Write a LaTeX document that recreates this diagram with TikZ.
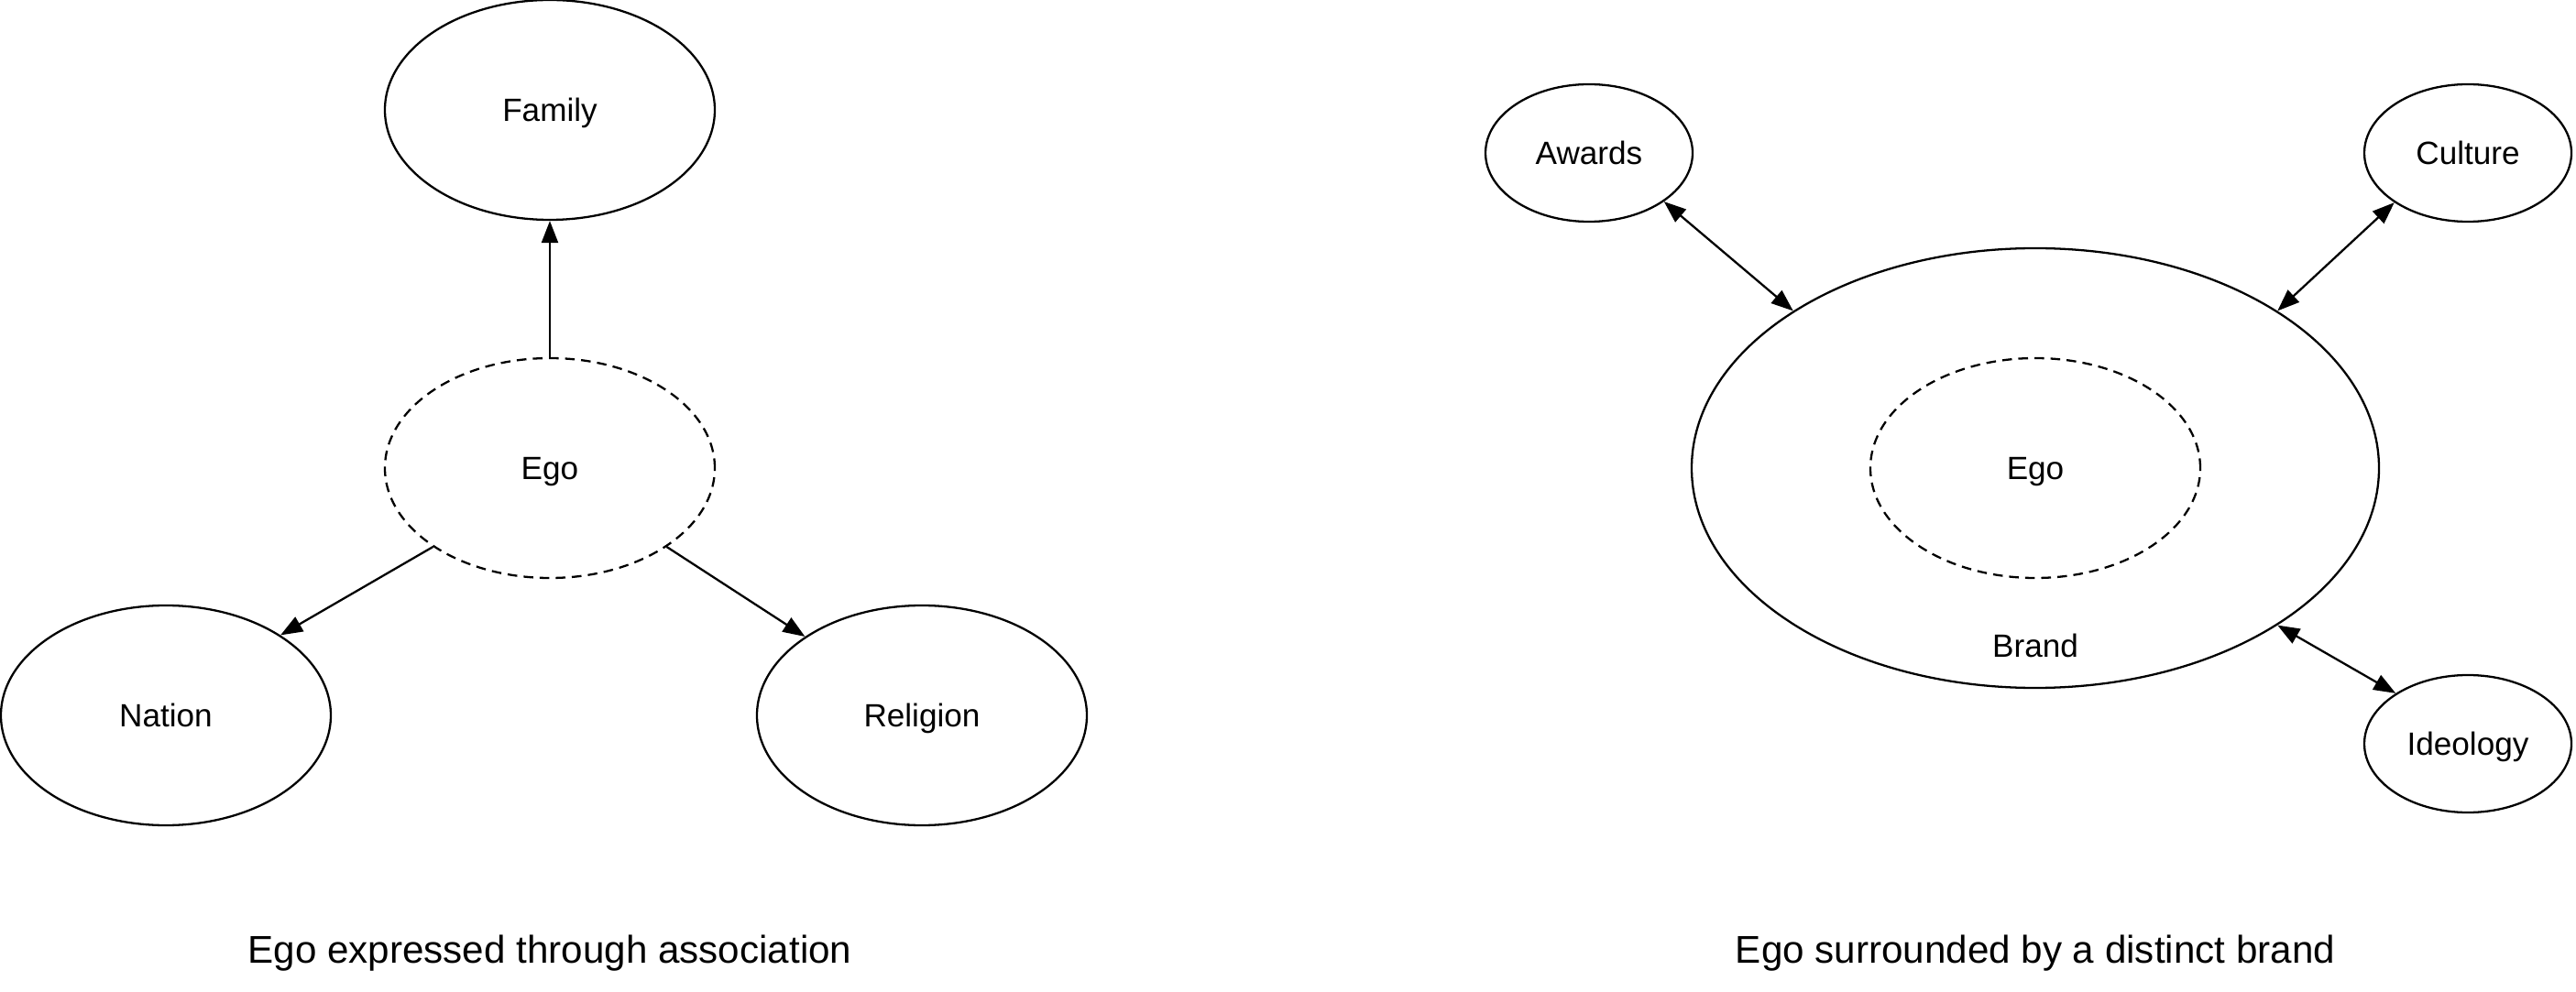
\documentclass[tikz,border=0pt]{standalone}
\usepackage{fontspec}
\setmainfont{Liberation Sans}
\usepackage{tikz}
\usetikzlibrary{arrows.meta, shapes.geometric}

\tikzset{
  blob/.style={ellipse, draw, line width=0.65pt, inner sep=0pt,
               text height=7.2pt, text depth=0pt,
               minimum width=3.6cm, minimum height=2.4cm},
  smallblob/.style={blob, minimum width=2.26cm, minimum height=1.5cm},
  egoblob/.style={blob, dash pattern=on 3pt off 2pt},
  label/.style={inner sep=0pt, text height=7.2pt, text depth=0pt},
  caption/.style={font=\fontsize{12}{14}\selectfont, inner sep=0pt,
                  text height=8.6pt, text depth=0pt}
}

\begin{document}
\begin{tikzpicture}[>={Triangle[length=2.4mm, width=1.8mm]}, line width=0.65pt]
            \useasboundingbox (0,0) rectangle (28.11,-10.83);
            % association
            \node[egoblob] (e1) at (6.00,-5.11) {Ego};
            \node[blob] (fam) at (6.00,-1.20) {Family};
            \node[blob] (nat) at (1.81,-7.81) {Nation};
            \node[blob] (rel) at (10.06,-7.81) {Religion};
            \draw (e1.north) edge[->] (fam.south);
            \draw (e1.214) edge[->] (nat.35);
            \draw (e1.326) edge[->] (rel.146);
            \node[caption] (c1) at (6.00,-10.36) {Ego expressed through association};
            % brand
            \node[blob, minimum width=7.5cm, minimum height=4.8cm] (br) at (22.21,-5.11) {};
            \node[egoblob] (e2) at (22.21,-5.11) {Ego};
            \node[label] (brl) at (22.21,-7.05) {Brand};
            \node[smallblob] (aw) at (17.34,-1.67) {Awards};
            \node[smallblob] (cu) at (26.93,-1.67) {Culture};
            \node[smallblob] (id) at (26.93,-8.12) {Ideology};
            \draw (aw.327) edge[<->] (br.147);
            \draw (cu.214) edge[<->] (br.33);
            \draw (id.145) edge[<->] (br.327);
            \node[caption] (c2) at (22.21,-10.36) {Ego surrounded by a distinct brand};
        \end{tikzpicture}
\end{document}
